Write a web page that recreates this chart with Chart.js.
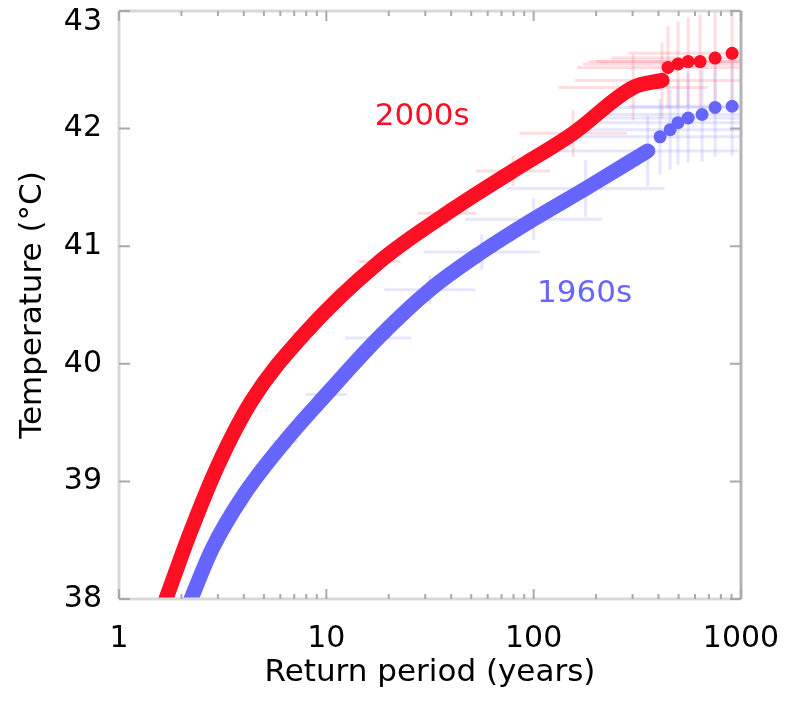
<!DOCTYPE html>
<html>
<head>
<meta charset="utf-8">
<script src="https://cdn.jsdelivr.net/npm/chart.js@4.4.1/dist/chart.umd.min.js"></script>
<style>
  html, body { margin: 0; padding: 0; background: #fff; }
  #wrap { width: 788px; height: 704px; }
</style>
</head>
<body>
<div id="wrap"><canvas id="chart" width="788" height="704"></canvas></div>
<script>
// Return period (years) and temperature (°C)
const redT = [1.62, 1.70, 2.20, 2.97, 4.38, 7.88, 18.1, 38.2, 79.5, 155, 302, 416, 445, 497, 556, 635, 750, 906];
const redTemp = [37.92, 38.02, 38.56, 39.12, 39.69, 40.26, 40.87, 41.28, 41.64, 41.96, 42.35, 42.41, 42.52, 42.55, 42.57, 42.57, 42.60, 42.64];
// uncertainty: +/- decades of return period, +/- °C
const redLogErr = [0.01, 0.01, 0.02, 0.03, 0.04, 0.06, 0.1, 0.14, 0.18, 0.26, 0.36, 0.42, 0.44, 0.46, 0.48, 0.5, 0.5, 0.5];
const redTempErr = [0.01, 0.01, 0.02, 0.03, 0.04, 0.05, 0.07, 0.09, 0.13, 0.2, 0.28, 0.32, 0.35, 0.36, 0.38, 0.4, 0.42, 0.45];
const redDenseCount = 12;

const blueT = [2.10, 2.25, 2.82, 3.98, 6.31, 10.0, 17.8, 31.6, 56.2, 100, 178, 355, 407, 455, 497, 556, 649, 750, 906];
const blueTemp = [37.88, 38.02, 38.43, 38.88, 39.34, 39.74, 40.22, 40.63, 40.95, 41.23, 41.49, 41.81, 41.93, 41.99, 42.05, 42.09, 42.12, 42.18, 42.19];
const blueLogErr = [0.01, 0.01, 0.02, 0.04, 0.06, 0.1, 0.16, 0.22, 0.28, 0.33, 0.38, 0.44, 0.46, 0.47, 0.48, 0.49, 0.5, 0.5, 0.5];
const blueTempErr = [0.01, 0.01, 0.02, 0.03, 0.05, 0.07, 0.09, 0.12, 0.15, 0.18, 0.24, 0.3, 0.32, 0.34, 0.36, 0.38, 0.4, 0.42, 0.42];
const blueDenseCount = 12;

const xMajorTicks = [1, 10, 100, 1000];
const xMinorTicks = [2, 3, 4, 5, 6, 7, 8, 9, 20, 30, 40, 50, 60, 70, 80, 90, 200, 300, 400, 500, 600, 700, 800, 900];
const yTicks = [38, 39, 40, 41, 42, 43];
const seriesLabels = ['2000s', '1960s'];

const RED = '#ff0f23';
const BLUE = '#6666ff';
const FONT = '"DejaVu Sans", sans-serif';

const toPoints = (ts, temps) => ts.map((t, i) => ({ x: t, y: temps[i] }));

// Draw the horizontal / vertical uncertainty bars for one series
function drawErrors(chart, ts, temps, dxs, dys, color) {
    const { ctx, chartArea: a, scales: { x, y } } = chart;
    ctx.save();
    ctx.beginPath();
    ctx.rect(a.left, a.top, a.right - a.left, a.bottom - a.top);
    ctx.clip();
    ctx.strokeStyle = color;
    ctx.lineWidth = 3;
    ts.forEach((t, i) => {
        const px = x.getPixelForValue(t);
        const py = y.getPixelForValue(temps[i]);
        const x0 = x.getPixelForValue(t / Math.pow(10, dxs[i]));
        const x1 = x.getPixelForValue(t * Math.pow(10, dxs[i]));
        const y0 = y.getPixelForValue(temps[i] - dys[i]);
        const y1 = y.getPixelForValue(temps[i] + dys[i]);
        ctx.beginPath();
        ctx.moveTo(x0, py); ctx.lineTo(x1, py);
        ctx.moveTo(px, y0); ctx.lineTo(px, y1);
        ctx.stroke();
    });
    ctx.restore();
}

const errorBars = {
    id: 'errorBars',
    beforeDatasetsDraw(chart) {
        drawErrors(chart, redT, redTemp, redLogErr, redTempErr, 'rgba(255,120,130,0.25)');
        drawErrors(chart, blueT, blueTemp, blueLogErr, blueTempErr, 'rgba(130,130,255,0.2)');
    }
};

// Frame, inward tick marks and the series labels
const frameAndLabels = {
    id: 'frameAndLabels',
    afterDatasetsDraw(chart) {
        const { ctx, chartArea: a, scales: { x, y } } = chart;
        ctx.save();
        ctx.lineWidth = 3;
        ctx.strokeStyle = '#d8d8d8';
        ctx.beginPath();
        ctx.moveTo(a.left, a.top); ctx.lineTo(a.right, a.top);
        ctx.moveTo(a.left, a.top); ctx.lineTo(a.left, a.bottom);
        ctx.moveTo(a.left, a.bottom); ctx.lineTo(a.right, a.bottom);
        ctx.stroke();
        ctx.strokeStyle = '#b4b4b4';
        ctx.beginPath();
        ctx.moveTo(a.right, a.top); ctx.lineTo(a.right, a.bottom);
        ctx.stroke();

        ctx.strokeStyle = '#aaaaaa';
        ctx.lineWidth = 2;
        ctx.beginPath();
        yTicks.forEach(v => {
            const py = y.getPixelForValue(v);
            ctx.moveTo(a.left, py); ctx.lineTo(a.left + 11, py);
            ctx.moveTo(a.right, py); ctx.lineTo(a.right - 11, py);
        });
        xMajorTicks.forEach(v => {
            const px = x.getPixelForValue(v);
            ctx.moveTo(px, a.bottom); ctx.lineTo(px, a.bottom - 10);
            ctx.moveTo(px, a.top); ctx.lineTo(px, a.top + 10);
        });
        xMinorTicks.forEach(v => {
            const px = x.getPixelForValue(v);
            ctx.moveTo(px, a.bottom); ctx.lineTo(px, a.bottom - 5);
            ctx.moveTo(px, a.top); ctx.lineTo(px, a.top + 5);
        });
        ctx.stroke();

        ctx.font = '31px ' + FONT;
        ctx.textAlign = 'center';
        ctx.textBaseline = 'middle';
        ctx.fillStyle = RED;
        ctx.fillText(seriesLabels[0], x.getPixelForValue(29), y.getPixelForValue(42.1));
        ctx.fillStyle = BLUE;
        ctx.fillText(seriesLabels[1], x.getPixelForValue(176), y.getPixelForValue(40.59));
        ctx.restore();
    }
};

const bandStyle = {
    type: 'line',
    borderWidth: 15,
    borderCapStyle: 'round',
    borderJoinStyle: 'round',
    pointRadius: 0,
    cubicInterpolationMode: 'monotone',
    clip: 0
};

new Chart(document.getElementById('chart'), {
    type: 'scatter',
    data: {
        datasets: [
            Object.assign({}, bandStyle, {
                data: toPoints(redT.slice(0, redDenseCount), redTemp.slice(0, redDenseCount)),
                borderColor: RED
            }),
            {
                data: toPoints(redT.slice(redDenseCount), redTemp.slice(redDenseCount)),
                backgroundColor: RED,
                borderWidth: 0,
                pointRadius: 6.5,
                clip: 0
            },
            Object.assign({}, bandStyle, {
                data: toPoints(blueT.slice(0, blueDenseCount), blueTemp.slice(0, blueDenseCount)),
                borderColor: BLUE
            }),
            {
                data: toPoints(blueT.slice(blueDenseCount), blueTemp.slice(blueDenseCount)),
                backgroundColor: BLUE,
                borderWidth: 0,
                pointRadius: 6.5,
                clip: 0
            }
        ]
    },
    options: {
        responsive: false,
        animation: false,
        devicePixelRatio: 1,
        layout: { padding: { left: 0, top: 11, right: 47, bottom: 0 } },
        plugins: {
            legend: { display: false },
            tooltip: { enabled: false }
        },
        scales: {
            x: {
                type: 'logarithmic',
                min: 1,
                max: 1000,
                grid: { display: false },
                border: { display: false },
                afterBuildTicks: s => { s.ticks = xMajorTicks.map(v => ({ value: v })); },
                afterFit: s => { s.height = 105; s.paddingLeft = 0; s.paddingRight = 0; },
                ticks: {
                    autoSkip: false,
                    maxRotation: 0,
                    padding: 14,
                    color: '#000',
                    font: { family: FONT, size: 30 },
                    callback: v => String(v)
                },
                title: {
                    display: true,
                    text: 'Return period (years)',
                    color: '#000',
                    font: { family: FONT, size: 31 },
                    padding: { top: 0, bottom: 12 }
                }
            },
            y: {
                min: 38,
                max: 43,
                grid: { display: false },
                border: { display: false },
                afterBuildTicks: s => { s.ticks = yTicks.map(v => ({ value: v })); },
                afterFit: s => { s.width = 119; s.paddingTop = 0; s.paddingBottom = 0; },
                ticks: {
                    padding: 9,
                    color: '#000',
                    font: ctx => ({ family: FONT, size: 30, lineHeight: (ctx.tick && ctx.tick.value === 43) ? 0.75 : 1.2 }),
                    callback: v => v === 43 ? ['', String(v)] : String(v)
                },
                title: {
                    display: true,
                    text: 'Temperature (°C)',
                    color: '#000',
                    font: { family: FONT, size: 31 },
                    padding: { top: 14, bottom: 0 }
                }
            }
        }
    },
    plugins: [errorBars, frameAndLabels]
});
</script>
</body>
</html>
